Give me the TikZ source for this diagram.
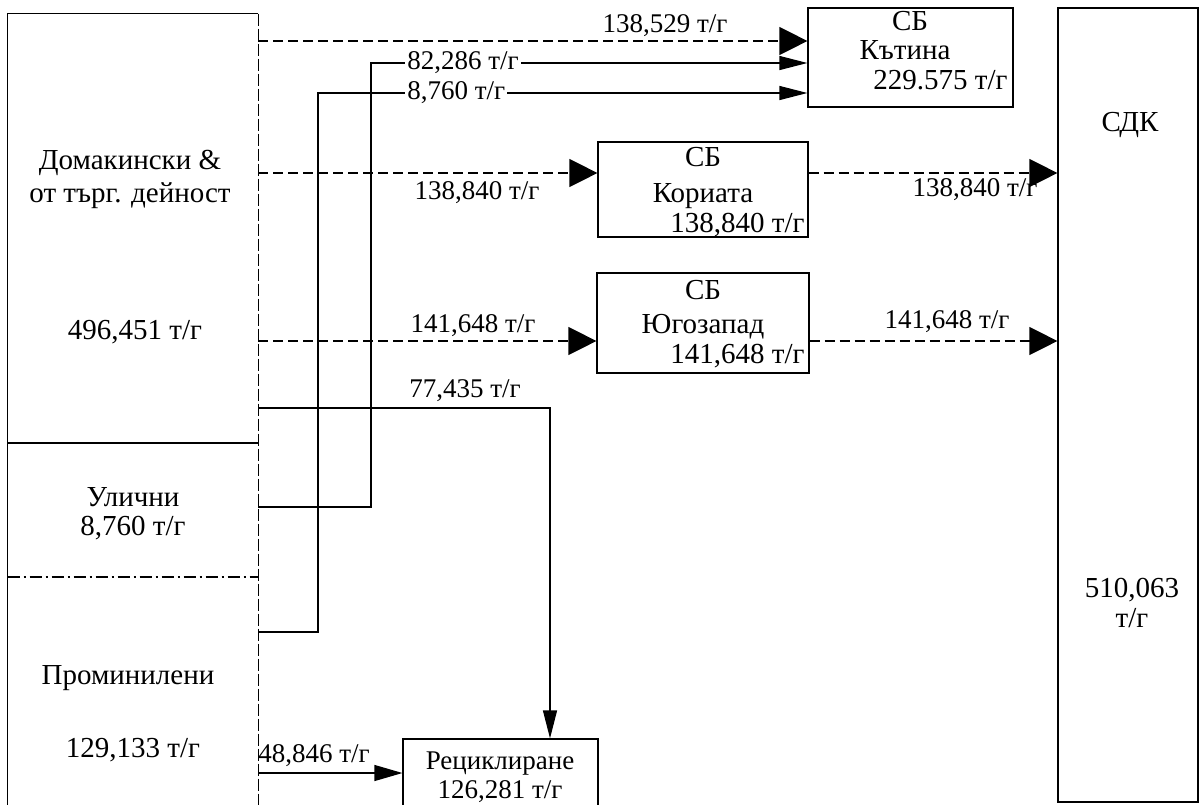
\documentclass[tikz,border=0pt]{standalone}
\usepackage{fontspec}
\setmainfont{Liberation Serif}
\usetikzlibrary{arrows.meta}
\begin{document}
\begin{tikzpicture}[x=0.5pt,y=-0.5pt,
  font=\fontsize{14.5}{16}\selectfont,
  box/.style={draw=black,line width=0.6pt,inner sep=0pt},
  txt/.style={inner sep=0pt},
  lbl/.style={inner sep=1pt,font=\fontsize{13.5}{16}\selectfont},
  flow/.style={line width=0.6pt},
  dflow/.style={line width=0.6pt,dash pattern=on 5pt off 2.5pt},
  bigtip/.style={-{Triangle[length=14pt,width=14pt]}},
  thintip/.style={-{Triangle[length=14pt,width=7pt]}},
]
\useasboundingbox (0,0) rectangle (1203,804);

% ---------- boxes ----------
\node[minimum width=125pt, minimum height=410pt, inner sep=0pt] (src) at (133,424) {};
\draw[line width=0.6pt] (src.south west) -- (src.north west) -- (src.north east);
\draw[line width=0.6pt, dash pattern=on 6pt off 1.5pt] (src.north east) -- (src.south east);
\coordinate (d1) at (0,443);
\coordinate (d2) at (0,577);
\draw[line width=0.6pt] (src.west |- d1) -- (src.east |- d1);
\draw[line width=0.6pt, dash pattern=on 6pt off 2pt on 1pt off 2pt] (src.west |- d2) -- (src.east |- d2);

\node[txt] (s1) at (130,163) {Домакински \&};
\node[txt] (s2) at (130,196) {от търг. дейност};
\node[txt] (s3) at (135,332) {496,451 т/г};
\node[txt] (u1) at (133,497) {Улични};
\node[txt] (u2) at (133,528) {8,760 т/г};
\node[txt] (p1) at (128,678) {Проминилени};
\node[txt] (p2) at (133,750) {129,133 т/г};

\node[box, minimum width=102.5pt, minimum height=49.5pt] (kat) at (910.5,57.5) {};
\node[txt] (katA) at (910,21) {СБ};
\node[txt] (katB) at (905,50) {Кътина};
\node[txt, anchor=east] (katC) at (1008,80) {229.575 т/г};

\node[box, minimum width=105pt, minimum height=47.5pt] (kor) at (703,189.5) {};
\node[txt] (korA) at (703,157) {СБ};
\node[txt] (korB) at (703,196) {Кориата};
\node[txt, anchor=east] (korC) at (805,225) {138,840 т/г};

\node[box, minimum width=106pt, minimum height=50pt] (yug) at (703,323) {};
\node[txt] (yugA) at (703,290) {СБ};
\node[txt] (yugB) at (703,327) {Югозапад};
\node[txt, anchor=east] (yugC) at (805,356) {141,648 т/г};

\node[box, minimum width=70pt, minimum height=397pt] (sdk) at (1128,405) {};
\node[txt] (sdkA) at (1130,125) {СДК};
\node[txt] (sdkB) at (1132,590) {510,063};
\node[txt] (sdkC) at (1132,618) {т/г};

\node[box, minimum width=97.5pt, minimum height=46pt] (rec) at (500.5,785) {};
\node[txt, font=\fontsize{13.5}{16}\selectfont] (recA) at (500,764) {Рециклиране};
\node[txt, font=\fontsize{13.5}{16}\selectfont] (recB) at (500,792) {126,281 т/г};

% ---------- connectors ----------
\coordinate (y42) at (0,41);
\draw[dflow,bigtip] (src.east |- y42) -- (kat.west |- y42);
\node[lbl] (l1) at (665,26) {138,529 т/г};

\coordinate (b1) at (371,507);
\coordinate (b1t) at (371,63);
\draw[flow,thintip] (src.east |- b1) -- (b1) -- (b1t) -- (kat.west |- b1t);
\node[lbl, fill=white, anchor=west] (l2) at (405,63) {82,286 т/г\hspace{16pt}};

\coordinate (b2) at (318,632);
\coordinate (b2t) at (318,93);
\draw[flow,thintip] (src.east |- b2) -- (b2) -- (b2t) -- (kat.west |- b2t);
\node[lbl, fill=white, anchor=west] (l3) at (405,93) {8,760 т/г\hspace{16pt}};

\coordinate (y173) at (0,173);
\draw[dflow,bigtip] (src.east |- y173) -- (kor.west |- y173);
\node[lbl] (l4) at (477,193) {138,840 т/г};
\draw[dflow,bigtip] (kor.east |- y173) -- (sdk.west |- y173);
\node[lbl] (l5) at (975,190) {138,840 т/г};

\coordinate (y341) at (0,341);
\draw[dflow,bigtip] (src.east |- y341) -- (yug.west |- y341);
\node[lbl] (l6) at (473,326) {141,648 т/г};
\draw[dflow,bigtip] (yug.east |- y341) -- (sdk.west |- y341);
\node[lbl] (l7) at (947,322) {141,648 т/г};

\coordinate (b3) at (550,408);
\draw[flow,thintip] (src.east |- b3) -- (b3) -- (rec.north -| b3);
\node[lbl] (l8) at (465,391) {77,435 т/г};

\coordinate (y773) at (0,773);
\draw[flow,-{Triangle[length=14pt,width=8pt]}] (src.east |- y773) -- (rec.west |- y773);
\node[lbl] (l9) at (314,756) {48,846 т/г};
\end{tikzpicture}
\end{document}
